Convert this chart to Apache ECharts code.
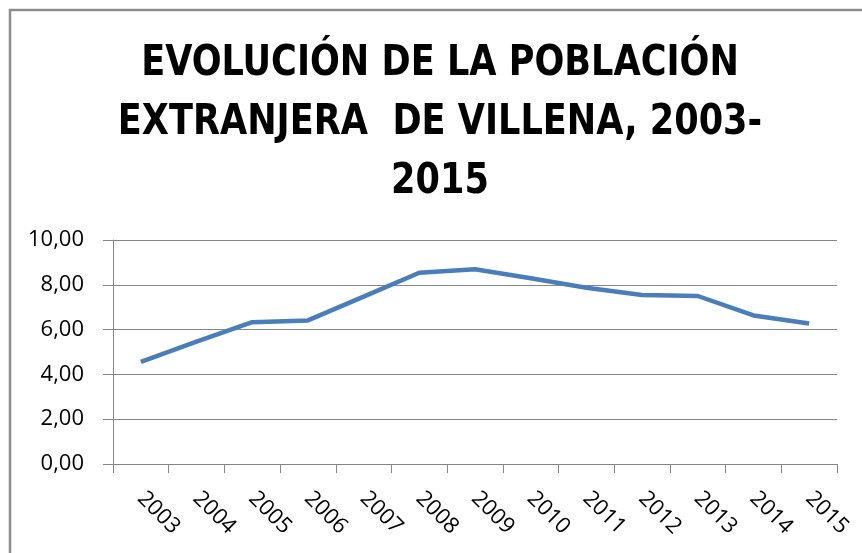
<!DOCTYPE html>
<html>
<head>
<meta charset="utf-8">
<script src="https://cdn.jsdelivr.net/npm/echarts@6/dist/echarts.min.js"></script>
<style>
html,body{margin:0;padding:0;background:#fff;}
#main{width:862px;height:553px;}
</style>
</head>
<body>
<div id="main"></div>
<script>
var titleText = 'EVOLUCIÓN DE LA POBLACIÓN\nEXTRANJERA  DE VILLENA, 2003-\n2015';
var years = ['2003','2004','2005','2006','2007','2008','2009','2010','2011','2012','2013','2014','2015'];
var values = [4.56, 5.46, 6.33, 6.41, 7.47, 8.54, 8.69, 8.29, 7.87, 7.54, 7.50, 6.63, 6.27];
var yTicks = {min: 0, max: 10, interval: 2};

var chart = echarts.init(document.getElementById('main'), null, {renderer: 'canvas'});
var labelFont = '"Open Sans", "Liberation Sans", sans-serif';
chart.setOption({
  animation: false,
  backgroundColor: '#ffffff',
  graphic: [{
    type: 'rect',
    shape: {x: 10, y: 10, width: 900, height: 600},
    style: {fill: 'none', stroke: '#8c8c8c', lineWidth: 2.5},
    silent: true
  }, {
    type: 'text',
    x: 440,
    y: 35,
    scaleX: 0.93,
    silent: true,
    style: {
      text: titleText,
      align: 'center',
      verticalAlign: 'top',
      fontFamily: '"DejaVu Sans Condensed", "Liberation Sans Narrow", sans-serif',
      fontWeight: 'bold',
      fontSize: 42,
      lineHeight: 59,
      fill: '#000000'
    }
  }],
  grid: {left: 113, right: 25, top: 240, bottom: 89, containLabel: false},
  xAxis: {
    type: 'category',
    data: years,
    boundaryGap: true,
    axisLine: {show: true, lineStyle: {color: '#868686', width: 1}},
    axisTick: {show: true, length: 9, interval: 0, lineStyle: {color: '#868686'}},
    axisLabel: {interval: 0, rotate: -45, margin: 31, fontFamily: labelFont, fontSize: 22, color: '#000000'}
  },
  yAxis: {
    type: 'value',
    min: yTicks.min, max: yTicks.max, interval: yTicks.interval,
    axisLine: {show: true, lineStyle: {color: '#868686', width: 1}},
    axisTick: {show: true, length: 10, lineStyle: {color: '#868686'}},
    splitLine: {show: true, lineStyle: {color: '#868686', width: 1}},
    axisLabel: {
      margin: 29, fontFamily: labelFont, fontSize: 22, color: '#000000',
      formatter: function (v) { return v.toFixed(2).replace('.', ','); }
    }
  },
  series: [{
    type: 'line',
    data: values,
    showSymbol: false,
    symbol: 'none',
    lineStyle: {color: '#4a7ebb', width: 4.5},
    itemStyle: {color: '#4a7ebb'}
  }]
});
</script>
</body>
</html>
